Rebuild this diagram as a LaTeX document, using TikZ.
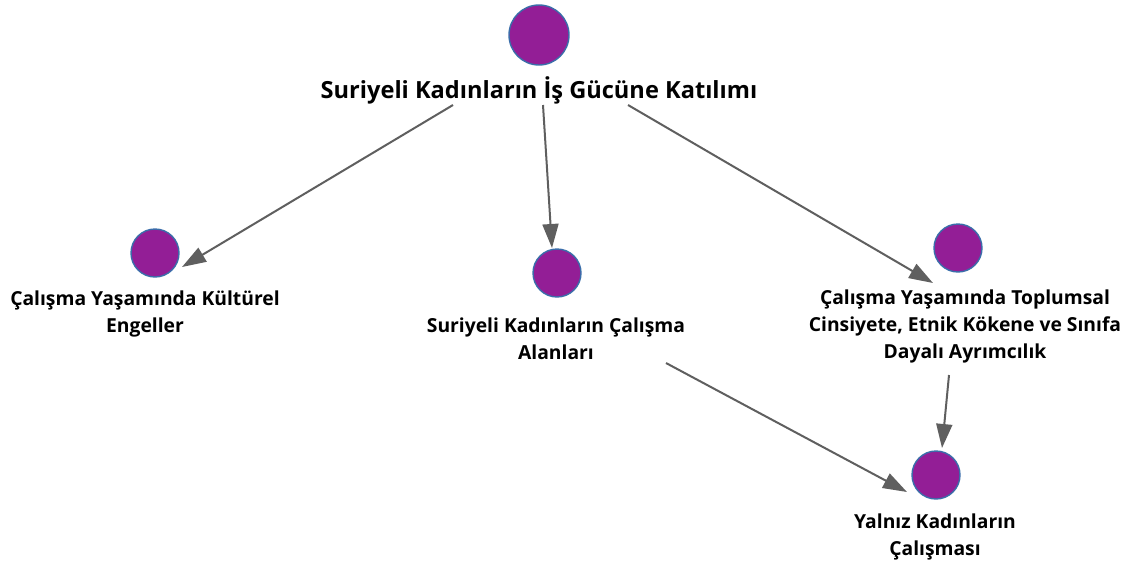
\documentclass[tikz,border=0pt]{standalone}
\usepackage{fontspec}
\setmainfont{Open Sans}
\usepackage{tikz}
\usetikzlibrary{
  positioning,
  calc,
  arrows.meta
}
\definecolor{dotfill}{HTML}{931E96}
\definecolor{dotline}{HTML}{3A6EAA}
\definecolor{linkgray}{HTML}{5F5F5F}
\tikzstyle{dot}=[circle, fill=dotfill, draw=dotline, line width=1.4pt, minimum size=48pt, inner sep=0pt]
\tikzstyle{bigdot}=[dot, minimum size=60pt]
\tikzstyle{lbl}=[align=center, inner sep=0pt, font=\bfseries\fontsize{19.3}{27}\selectfont]
\tikzstyle{link}=[-{Triangle[length=24pt, width=16pt]}, draw=linkgray, fill=linkgray, line width=2pt]

\begin{document}
\begin{tikzpicture}[x=1pt, y=-1pt]
    \useasboundingbox (0,0) rectangle (1140,566);

    % ana kavram
    \node[bigdot] (top) at (539,35) {};
    \node[lbl, font=\bfseries\fontsize{23.6}{27}\selectfont] (toplbl) at (539,90) {Suriyeli Kadınların İş Gücüne Katılımı};

    % alt kavramlar
    \node[dot] (left) at (155,253) {};
    \node[lbl] (leftlbl) at (145,313.5) {Çalışma Yaşamında Kültürel\\Engeller};

    \node[dot] (mid) at (557,273) {};
    \node[lbl] (midlbl) at (556,338.5) {Suriyeli Kadınların Çalışma\\Alanları};

    \node[dot] (right) at (958,248) {};
    \node[lbl] (rightlbl) at (965,326.5) {Çalışma Yaşamında Toplumsal\\Cinsiyete, Etnik Kökene ve Sınıfa\\Dayalı Ayrımcılık};

    \node[dot] (bottom) at (936,475) {};
    \node[lbl] (bottomlbl) at (935,536.5) {Yalnız Kadınların\\Çalışması};

    % bağlantılar
    \draw[link] ($(toplbl)+(-86,15)$) -- ($(left)+(27,14)$);
    \draw[link] ($(toplbl)+(4,15)$) -- ($(mid)+(-5,-25)$);
    \draw[link] ($(toplbl)+(89,15)$) -- ($(right)+(-25,35)$);
    \draw[link] ($(midlbl)+(110,24.5)$) -- ($(bottom)+(-29,17)$);
    \draw[link] ($(rightlbl)+(-16,48.5)$) -- ($(bottom)+(6,-27)$);
\end{tikzpicture}
\end{document}
